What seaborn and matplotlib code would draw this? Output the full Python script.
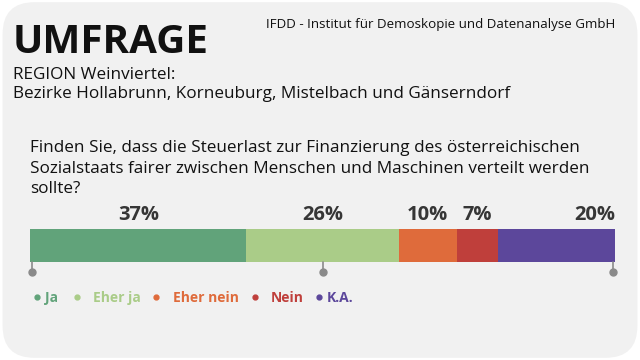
import matplotlib
matplotlib.use("Agg")
import matplotlib.pyplot as plt
import seaborn as sns
import pandas as pd
import numpy as np
from matplotlib.patches import FancyBboxPatch
from matplotlib.lines import Line2D

sns.set_theme(style="white")
plt.rcParams['font.family'] = ['Open Sans', 'DejaVu Sans']

# ---- data ----
categories = ["Ja", "Eher ja", "Eher nein", "Nein", "K.A."]
values = [37, 26, 10, 7, 20]
labels = ["37%", "26%", "10%", "7%", "20%"]
colors = ["#61a37a", "#aacc88", "#df6b3b", "#bf3f3b", "#5c479b"]
tick_values = [0, 50, 100]
question_lines = ["Finden Sie, dass die Steuerlast zur Finanzierung des österreichischen",
                  "Sozialstaats fairer zwischen Menschen und Maschinen verteilt werden",
                  "sollte?"]

W, H = 640, 360
fig = plt.figure(figsize=(W / 100, H / 100), dpi=100)
fig.patch.set_facecolor("white")

# rounded card background
card = FancyBboxPatch((0.004, 0.006), 0.992, 0.988,
                      boxstyle="round,pad=0,rounding_size=0.05",
                      transform=fig.transFigure, facecolor="#f1f1f1",
                      edgecolor="none", mutation_aspect=W / H, zorder=-10)
fig.patches.append(card)

def fx(px):
    return px / W

def fy(py):
    return 1 - py / H

# header texts
fig.text(fx(13), fy(53), "UMFRAGE", fontsize=29, fontweight="bold",
         color="#111111", ha="left", va="baseline")
fig.text(fx(615), fy(28), "IFDD - Institut für Demoskopie und Datenanalyse GmbH",
         fontsize=9.6, color="#111111", ha="right", va="baseline")
fig.text(fx(13), fy(79), "REGION Weinviertel:", fontsize=12.3, color="#111111",
         ha="left", va="baseline")
fig.text(fx(13), fy(98), "Bezirke Hollabrunn, Korneuburg, Mistelbach und Gänserndorf",
         fontsize=12.3, color="#111111", ha="left", va="baseline")
for k, line in enumerate(question_lines):
    fig.text(fx(30), fy(152 + 20.5 * k), line, fontsize=12.3, color="#111111",
             ha="left", va="baseline")

# bar axes
ax = fig.add_axes([fx(30), fy(262), fx(615) - fx(30), (262 - 229) / H])
ax.set_facecolor("none")
cum = np.cumsum(values)
for i in range(len(values) - 1, -1, -1):
    df = pd.DataFrame({"q": ["q"], "v": [cum[i]]})
    sns.barplot(data=df, x="v", y="q", orient="h", color=colors[i],
                width=0.8, linewidth=0, saturation=1, ax=ax)
ax.set_xlim(0, 100)
ax.set_ylim(0.4, -0.4)
ax.axis("off")

# percentage labels
starts = cum - np.array(values)
for i, (s, v, lab) in enumerate(zip(starts, values, labels)):
    if i == len(values) - 1:
        xpos, ha = s + v, "right"
    else:
        xpos, ha = s + v / 2, "center"
    ax.annotate(lab, (xpos, -0.4), xytext=(0, 3), textcoords="offset points",
                ha=ha, va="bottom", fontsize=14.5, fontweight="bold",
                color="#363636", annotation_clip=False)

# tick marks with dots
for t in tick_values:
    tx = min(max(t, 0.35), 99.65)
    ax.plot([tx, tx], [0.4, 0.64], color="#8a8a8a", lw=1.2, clip_on=False)
    ax.plot([tx], [0.64], marker="o", markersize=5, color="#8a8a8a",
            clip_on=False)

# legend
dot_x = [37, 77, 156, 255, 319]
text_x = [45, 93, 173, 271, 327]
ly = 298
for c, cat, dx, tx in zip(colors, categories, dot_x, text_x):
    fig.add_artist(Line2D([fx(dx)], [fy(ly - 1)], marker="o", markersize=3.5,
                          color=c, transform=fig.transFigure, linestyle="none"))
    fig.text(fx(tx), fy(ly), cat, fontsize=10, fontweight="bold", color=c,
             ha="left", va="center")

fig.savefig("out.png", dpi=100, facecolor=fig.get_facecolor())
